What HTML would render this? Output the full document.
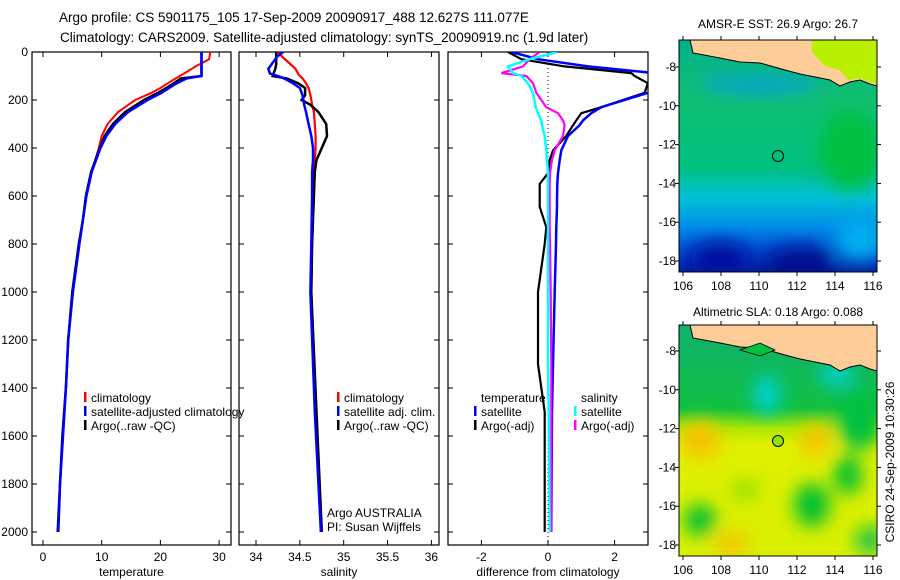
<!DOCTYPE html>
<html><head><meta charset="utf-8"><style>
body{margin:0;background:#fff;}
svg{display:block;font-family:"Liberation Sans",sans-serif;}
</style></head><body>
<svg id="fig" width="900" height="580" viewBox="0 0 900 580">
<defs>
<clipPath id="c1"><rect x="32" y="52" width="199" height="493"/></clipPath>
<clipPath id="c2"><rect x="239" y="52" width="200" height="493"/></clipPath>
<clipPath id="c3"><rect x="448" y="52" width="200" height="493"/></clipPath>
<clipPath id="m1"><rect x="679" y="40" width="198" height="232"/></clipPath>
<clipPath id="m2"><rect x="679" y="325" width="198" height="231"/></clipPath>
<filter id="bl" x="-50%" y="-50%" width="200%" height="200%"><feGaussianBlur stdDeviation="9"/></filter>
<linearGradient id="g1" x1="0" y1="0" x2="0" y2="1">
<stop offset="0" stop-color="#00b090"/><stop offset="0.25" stop-color="#10c070"/><stop offset="0.55" stop-color="#00c080"/>
<stop offset="0.68" stop-color="#00c0d8"/><stop offset="0.8" stop-color="#0090e8"/><stop offset="0.9" stop-color="#0050d0"/><stop offset="1" stop-color="#0020a0"/>
</linearGradient>
<linearGradient id="g2" x1="0" y1="0" x2="0" y2="1">
<stop offset="0" stop-color="#10b070"/><stop offset="0.36" stop-color="#10c040"/><stop offset="0.45" stop-color="#b0e800"/><stop offset="0.52" stop-color="#e0f000"/><stop offset="1" stop-color="#d8f000"/>
</linearGradient>
</defs>
<g font-size="13.5">
<text x="59" y="22">Argo profile: CS 5901175_105 17-Sep-2009 20090917_488 12.627S 111.077E</text>
<text x="60" y="42">Climatology: CARS2009. Satellite-adjusted climatology: synTS_20090919.nc (1.9d later)</text>
</g>
<g id="plots"></g>

<!-- Map 1 -->
<g>
<text x="778" y="28" font-size="12" text-anchor="middle">AMSR-E SST: 26.9 Argo: 26.7</text>
<g clip-path="url(#m1)">
<rect x="679" y="40" width="198" height="232" fill="url(#g1)"/>
<g filter="url(#bl)">
<ellipse cx="850" cy="150" rx="30" ry="40" fill="#00c040"/>
<ellipse cx="720" cy="260" rx="30" ry="18" fill="#0010a0"/>
<ellipse cx="800" cy="265" rx="35" ry="18" fill="#000c90"/>
<ellipse cx="860" cy="240" rx="25" ry="20" fill="#00b0f0"/>
<ellipse cx="760" cy="85" rx="60" ry="8" fill="#00a0e0"/>
</g>
<polygon fill="#fccc99" stroke="#000" stroke-width="1" points="690,40 693,53 720,58 740,62 760,63 785,70 800,74 830,80 840,86 850,82 860,80 870,84 877,86 877,40"/>
<polygon fill="#b8f000" points="812,40 877,40 877,84 870,82 860,78 848,80 840,70 825,66 812,52"/>
<circle cx="778" cy="156" r="5.5" fill="none" stroke="#000"/>
</g>
<rect x="679" y="40" width="198" height="232" fill="none" stroke="#000"/>
</g>
<!-- Map 2 -->
<g>
<text x="778" y="316" font-size="12" text-anchor="middle">Altimetric SLA: 0.18 Argo: 0.088</text>
<g clip-path="url(#m2)">
<rect x="679" y="325" width="198" height="231" fill="url(#g2)"/>
<g filter="url(#bl)">
<ellipse cx="767" cy="395" rx="14" ry="20" fill="#00d0d0"/>
<ellipse cx="837" cy="375" rx="18" ry="12" fill="#00d0d0"/>
<ellipse cx="860" cy="420" rx="22" ry="30" fill="#00c040"/>
<ellipse cx="700" cy="440" rx="20" ry="18" fill="#f8c000"/>
<ellipse cx="815" cy="440" rx="14" ry="16" fill="#f8c000"/>
<ellipse cx="732" cy="545" rx="16" ry="12" fill="#f8c000"/>
<ellipse cx="700" cy="520" rx="16" ry="16" fill="#00c030"/>
<ellipse cx="812" cy="505" rx="18" ry="22" fill="#00c030"/>
<ellipse cx="848" cy="475" rx="14" ry="20" fill="#00c030"/>
<ellipse cx="870" cy="540" rx="14" ry="14" fill="#10c050"/>
<ellipse cx="745" cy="490" rx="14" ry="10" fill="#90e000"/>
</g>
<polygon fill="#fccc99" stroke="#000" stroke-width="1" points="690,325 693,338 720,343 740,347 760,348 785,355 800,359 830,365 840,371 850,367 860,365 870,369 877,371 877,325"/>
<polygon fill="#00c040" stroke="#000" stroke-width="0.8" points="740,350 760,343 775,350 760,356"/>
<circle cx="778" cy="441" r="5.5" fill="#90e000" stroke="#000"/>
</g>
<rect x="679" y="325" width="198" height="231" fill="none" stroke="#000"/>
</g>
<text transform="translate(894,462) rotate(-90)" font-size="12" text-anchor="middle">CSIRO 24-Sep-2009 10:30:26</text>
<g id="maptk"></g>
</svg>
<script>
// Temperature panel data
const tDepth=[0,30,60,90,100,110,130,150,170,200,250,300,350,400,500,600,700,800,1000,1200,1400,1600,1800,2000];
const tClim=[28.5,28.3,26.0,24.0,23.3,22.6,21.3,20.0,18.5,15.7,12.8,11.0,10.0,9.5,8.3,7.4,6.8,6.2,5.1,4.3,3.9,3.4,2.9,2.6];
const tSat=[27,27,27,27,27,24.5,22.8,21.5,20.2,17.8,14.5,12.3,10.8,9.8,8.3,7.4,6.8,6.2,5.1,4.3,3.9,3.4,2.9,2.6];
const tArgo=[27,27,27,27,27,23.5,22.3,21.0,19.6,17.2,14.0,11.9,10.5,9.7,8.2,7.3,6.8,6.1,5.0,4.3,3.9,3.3,2.9,2.5];
// Salinity panel data
const sDepth=[0,20,50,70,90,100,110,130,150,180,200,220,250,300,350,400,450,500,600,800,1000,1500,2000];
const sClim=[34.25,34.30,34.39,34.45,34.48,34.5,34.53,34.57,34.6,34.62,34.63,34.64,34.66,34.67,34.68,34.68,34.67,34.66,34.65,34.64,34.63,34.68,34.74];
const sSat=[34.31,34.24,34.18,34.14,34.16,34.25,34.32,34.42,34.5,34.53,34.54,34.55,34.57,34.6,34.63,34.65,34.65,34.64,34.64,34.63,34.62,34.67,34.74];
const sArgo=[34.23,34.23,34.23,34.22,34.20,34.19,34.35,34.48,34.56,34.56,34.52,34.62,34.71,34.80,34.81,34.75,34.69,34.67,34.66,34.64,34.63,34.69,34.75];
// Difference panel data
const dDepth=[0,30,60,88,100,130,170,230,255,285,305,350,410,450,505,550,620,645,730,800,1000,1300,1500,2000];
const dTSat=[-1.1,-0.3,1.2,3.2,3.3,3.3,3.0,1.6,1.3,1.05,0.95,0.6,0.4,0.35,0.3,0.28,0.27,0.27,0.25,0.24,0.2,0.15,0.12,0.1];
const dTArgo=[-1.2,-0.8,0.5,2.5,2.6,3.0,2.9,1.6,1.0,0.85,0.75,0.55,0.15,0.05,0,-0.25,-0.25,-0.25,-0.05,-0.1,-0.3,-0.3,-0.1,-0.1];
const dSSat=[0.27,-0.55,-1.2,-1.05,-0.8,-0.6,-0.45,-0.37,-0.3,-0.2,-0.18,-0.1,-0.05,-0.03,0,0,0,0,0,0,0,0,0.02,0.05];
const dSArgo=[-0.25,-0.55,-0.75,-1.4,-0.65,-0.45,-0.35,-0.05,0.3,0.45,0.5,0.45,0.2,0.12,0.06,0.05,0.05,0.05,0.05,0.06,0.08,0.1,0.1,0.1];
const depthTicks=[0,200,400,600,800,1000,1200,1400,1600,1800,2000];
const tTicks=[0,10,20,30];
const sTicks=[34,34.5,35,35.5,36];
const sTickLabels=["34","34.5","35","35.5","36"];
const dTicks=[-2,0,2];
const lonTicks=[106,108,110,112,114,116];
const latTicks=[-8,-10,-12,-14,-16,-18];

const NS="http://www.w3.org/2000/svg";
const root=document.getElementById('plots');
function mk(tag,attrs,parent){const e=document.createElementNS(NS,tag);for(const k in attrs)e.setAttribute(k,attrs[k]);(parent||root).appendChild(e);return e;}
const yD=d=>52+d*0.24;
const xT=t=>43+t*5.87;
const xS=s=>256+(s-34)*87.7;
const xDf=v=>548+v*33.3;
const panels=[
 {x0:32,x1:231,clip:'c1',sx:xT,ticks:tTicks,labels:tTicks.map(String),label:'temperature',name:'temperature'},
 {x0:239,x1:439,clip:'c2',sx:xS,ticks:sTicks,labels:sTickLabels,label:'salinity',name:'salinity'},
 {x0:448,x1:648,clip:'c3',sx:xDf,ticks:dTicks,labels:["-2","0","2"],label:'difference from climatology',name:'difference'}
];
panels.forEach((p,i)=>{
 const g=mk('g',{});
 
 
 const fr=mk('rect',{x:p.x0,y:52,width:p.x1-p.x0,height:493,fill:'none',stroke:'#000','stroke-width':1.2},g);
 
 
 p.ticks.forEach((t,j)=>{
  const x=p.sx(t);
  mk('line',{x1:x,x2:x,y1:52,y2:57,stroke:'#000'},g);
  mk('line',{x1:x,x2:x,y1:545,y2:540,stroke:'#000'},g);
  const tx=mk('text',{x:x,y:561,'font-size':12,'text-anchor':'middle'},g);
  tx.textContent=p.labels[j];
  
  
 });
 depthTicks.forEach(d=>{
  const y=yD(d);
  mk('line',{x1:p.x0,x2:p.x0+5,y1:y,y2:y,stroke:'#000'},g);
  mk('line',{x1:p.x1,x2:p.x1-5,y1:y,y2:y,stroke:'#000'},g);
  if(i===0){const tx=mk('text',{x:28,y:y+4,'font-size':12,'text-anchor':'end'},g);tx.textContent=String(d);
   
   }
 });
 const al=mk('text',{x:(p.x0+p.x1)/2,y:576,'font-size':12,'text-anchor':'middle'},g);
 al.textContent=p.label;
 
 
});
function line(depths,vals,sx,clip,color,w,name){
 const pts=depths.map((d,i)=>sx(vals[i]).toFixed(1)+','+yD(d).toFixed(1)).join(' ');
 const e=mk('polyline',{points:pts,fill:'none',stroke:color,'stroke-width':w,'clip-path':'url(#'+clip+')'});
 
 
}
line(tDepth,tClim,xT,'c1','#f00',2,'temperature-climatology-line');
line(tDepth,tArgo,xT,'c1','#000',2.5,'temperature-argo-line');
line(tDepth,tSat,xT,'c1','#00f',2.5,'temperature-satellite-line');
line(sDepth,sClim,xS,'c2','#f00',2.2,'salinity-climatology-line');
line(sDepth,sArgo,xS,'c2','#000',2.5,'salinity-argo-line');
line(sDepth,sSat,xS,'c2','#00f',2.5,'salinity-satellite-line');
mk('line',{x1:xDf(0),x2:xDf(0),y1:52,y2:545,stroke:'#000','stroke-dasharray':'1,3'});
line(dDepth,dTArgo,xDf,'c3','#000',2.2,'diff-temperature-argo-line');
line(dDepth,dTSat,xDf,'c3','#00f',2.5,'diff-temperature-satellite-line');
line(dDepth,dSArgo,xDf,'c3','#f0f',2.2,'diff-salinity-argo-line');
line(dDepth,dSSat,xDf,'c3','#0ff',2.5,'diff-salinity-satellite-line');

function legend(x,y,color,label,name){
 const g=mk('g',{});
 
 
 if(color)mk('rect',{x:x-7,y:y-10,width:2.5,height:10,fill:color},g);
 const t=mk('text',{x:x,y:y,'font-size':12},g);t.textContent=label;
}
legend(91,402,'#f00','climatology','legend-climatology');
legend(91,416,'#00f','satellite-adjusted climatology','legend-satellite-adjusted');
legend(91,430,'#000','Argo(..raw -QC)','legend-argo-raw');
legend(344,402,'#f00','climatology','legend-sal-climatology');
legend(344,416,'#00f','satellite adj. clim.','legend-sal-satellite');
legend(344,430,'#000','Argo(..raw -QC)','legend-sal-argo');
legend(481,402,null,'temperature','legend-temperature-header');
legend(481,416,'#00f','satellite','legend-temp-satellite');
legend(481,430,'#000','Argo(-adj)','legend-temp-argo');
legend(581,402,null,'salinity','legend-salinity-header');
legend(581,416,'#0ff','satellite','legend-sal-diff-satellite');
legend(581,430,'#f0f','Argo(-adj)','legend-sal-diff-argo');
legend(327,517,null,'Argo AUSTRALIA','argo-australia-note');
legend(327,531,null,'PI: Susan Wijffels','pi-note');

// map ticks
const mt=document.getElementById('maptk');
const lonX=l=>683+(l-106)*19;
[[40,272,67,'sst'],[325,556,351,'sla']].forEach(m=>{
 const [y0,y1,y8,nm]=m;
 lonTicks.forEach(l=>{
  const x=lonX(l);
  mk('line',{x1:x,x2:x,y1:y1,y2:y1+4,stroke:'#000'},mt);
  mk('line',{x1:x,x2:x,y1:y0,y2:y0-4,stroke:'#000'},mt);
  const t=mk('text',{x:x,y:y1+18,'font-size':12,'text-anchor':'middle'},mt);t.textContent=String(l);
  
  
 });
 latTicks.forEach(l=>{
  const y=y8+(-8-l)*19.4;
  mk('line',{x1:675,x2:679,y1:y,y2:y,stroke:'#000'},mt);
  mk('line',{x1:877,x2:881,y1:y,y2:y,stroke:'#000'},mt);
  const t=mk('text',{x:676,y:y+4,'font-size':12,'text-anchor':'end'},mt);t.textContent=String(l);
  
  
 });
});
</script>
</body></html>
